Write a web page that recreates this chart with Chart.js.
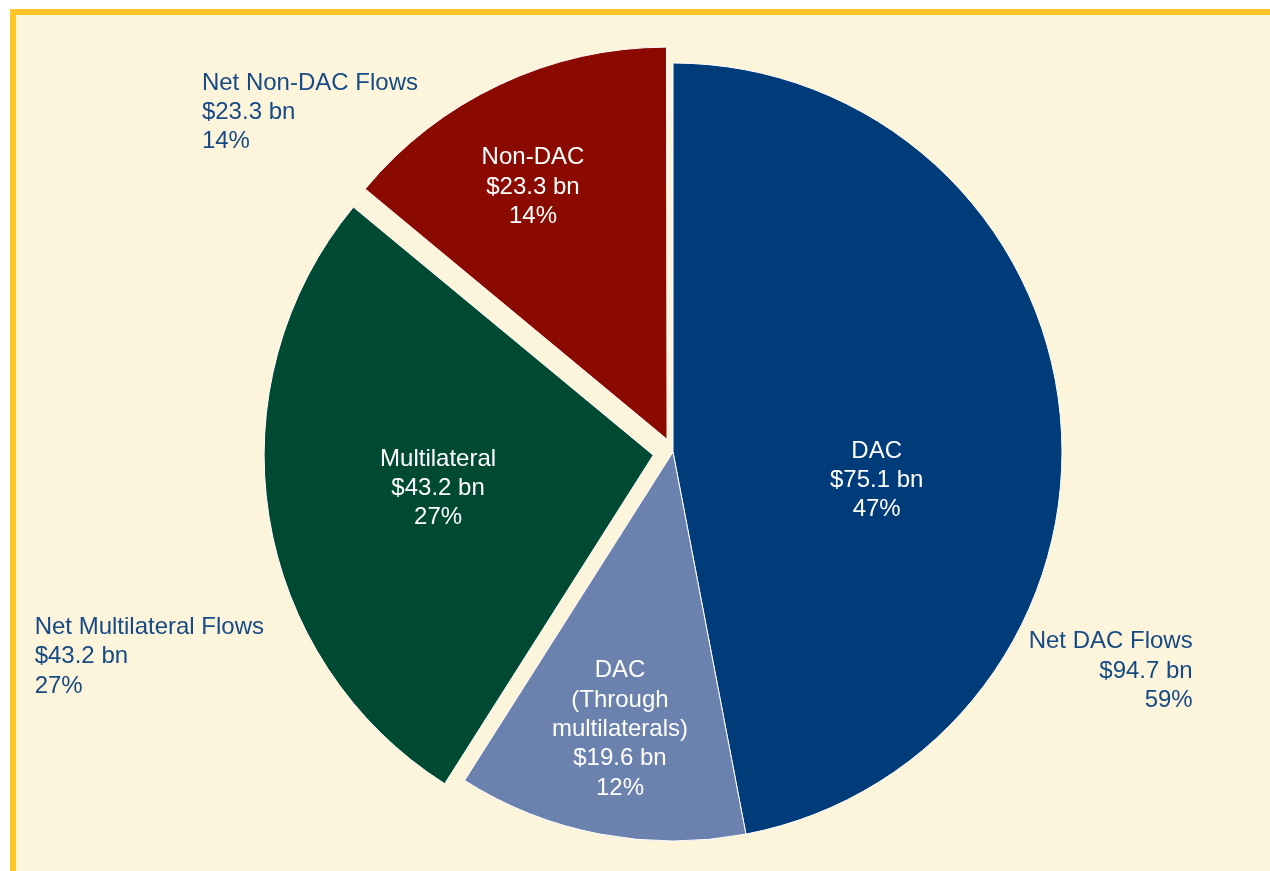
<!DOCTYPE html>
<html>
<head>
<meta charset="utf-8">
<title>Net flows pie</title>
<script src="https://cdn.jsdelivr.net/npm/chart.js@4"></script>
<style>
    html, body {
        margin: 0;
        padding: 0;
        background: #ffffff;
        width: 1270px;
        height: 871px;
        overflow: hidden;
    }
    .frame {
        position: absolute;
        left: 10px;
        top: 9px;
        right: 0;
        bottom: 0;
        background: #fdf4dc;
        border-top: 6px solid #ffc425;
        border-left: 6px solid #ffc425;
    }
    #flowsChart {
        position: absolute;
        left: 0;
        top: 0;
    }
</style>
</head>
<body>
<div class="frame"></div>
<canvas id="flowsChart" width="1270" height="871"></canvas>

<script>
/* ================================
   NET FLOWS PIE
   ================================ */

// Slice data (clockwise from 12 o'clock)
const sliceLabels = ['DAC', 'DAC\n(Through\nmultilaterals)', 'Multilateral', 'Non-DAC'];
const sliceShares = [47, 12, 27, 14];          // percent of total, drives the slices
const sliceAmounts = [75.1, 19.6, 43.2, 23.3];  // $ bn

// Outer group labels
const groupNames = ['Net DAC Flows', 'Net Multilateral Flows', 'Net Non-DAC Flows'];
const groupSlices = [[0, 1], [2], [3]];

const sliceColors = ['#003b7a', '#6b81ae', '#004a33', '#8b0a00'];
const sliceOffsets = [0, 0, 20, 14];   // explode distance in px
const textBlue = '#164a84';
const FONT = '24px "Liberation Sans", Arial, sans-serif';
const LINE_H = 29.3;
const PIE_RADIUS = 389;

// where the text inside each slice sits: angle shift (deg) and radius fraction
const innerLabelPos = [
    { dAngle: 12.8, frac: 0.528 },
    { dAngle: 0.1, frac: 0.721 },
    { dAngle: 0.7, frac: 0.559 },
    { dAngle: -2.6, frac: 0.739 }
];

// outer labels, in radius units from the pie centre (first baseline)
const outerLabelPos = [
    { dx: 1.336, dy: 0.505, align: 'right' },
    { dx: -1.641, dy: 0.468, align: 'left' },
    { dx: -1.211, dy: -0.931, align: 'left' }
];

function money(v) {
    return '$' + v.toFixed(1) + ' bn';
}

const labelPlugin = {
    id: 'flowLabels',
    afterDatasetsDraw(chart) {
        const ctx = chart.ctx;
        const arcs = chart.getDatasetMeta(0).data;
        ctx.save();
        ctx.font = FONT;
        ctx.textBaseline = 'alphabetic';

        // inside labels
        ctx.fillStyle = '#ffffff';
        ctx.textAlign = 'center';
        arcs.forEach((arc, i) => {
            const mid = (arc.startAngle + arc.endAngle) / 2;
            const off = sliceOffsets[i];
            const a = mid + innerLabelPos[i].dAngle * Math.PI / 180;
            const r = arc.outerRadius * innerLabelPos[i].frac;
            const cx = arc.x + Math.cos(mid) * off + Math.cos(a) * r;
            const cy = arc.y + Math.sin(mid) * off + Math.sin(a) * r;
            const lines = sliceLabels[i].split('\n').concat([money(sliceAmounts[i]), sliceShares[i] + '%']);
            const n = lines.length;
            lines.forEach((line, k) => {
                ctx.fillText(line, cx, cy + (k - (n - 1) / 2) * LINE_H + 8.5);
            });
        });

        // outer group labels
        const first = arcs[0];
        ctx.fillStyle = textBlue;
        groupNames.forEach((name, g) => {
            const amount = groupSlices[g].reduce((s, idx) => s + sliceAmounts[idx], 0);
            const share = groupSlices[g].reduce((s, idx) => s + sliceShares[idx], 0);
            const pos = outerLabelPos[g];
            const x = first.x + pos.dx * first.outerRadius;
            const y = first.y + pos.dy * first.outerRadius;
            ctx.textAlign = pos.align;
            [name, money(amount), share + '%'].forEach((line, k) => {
                ctx.fillText(line, x, y + k * LINE_H);
            });
        });
        ctx.restore();
    }
};

document.addEventListener('DOMContentLoaded', function() {
    const ctx = document.getElementById('flowsChart');

    new Chart(ctx, {
        type: 'pie',
        data: {
            labels: sliceLabels,
            datasets: [{
                data: sliceShares,
                backgroundColor: sliceColors,
                borderColor: '#ffffff',
                borderWidth: 1,
                // Chart.js v4 arcs move by offset / 4
                offset: sliceOffsets.map(o => o * 4),
                radius: PIE_RADIUS
            }]
        },
        options: {
            responsive: false,
            animation: false,
            events: [],
            layout: {
                padding: { left: 80, right: 4, top: 37, bottom: 4 }
            },
            plugins: {
                legend: { display: false },
                tooltip: { enabled: false }
            }
        },
        plugins: [labelPlugin]
    });
});
</script>
</body>
</html>
